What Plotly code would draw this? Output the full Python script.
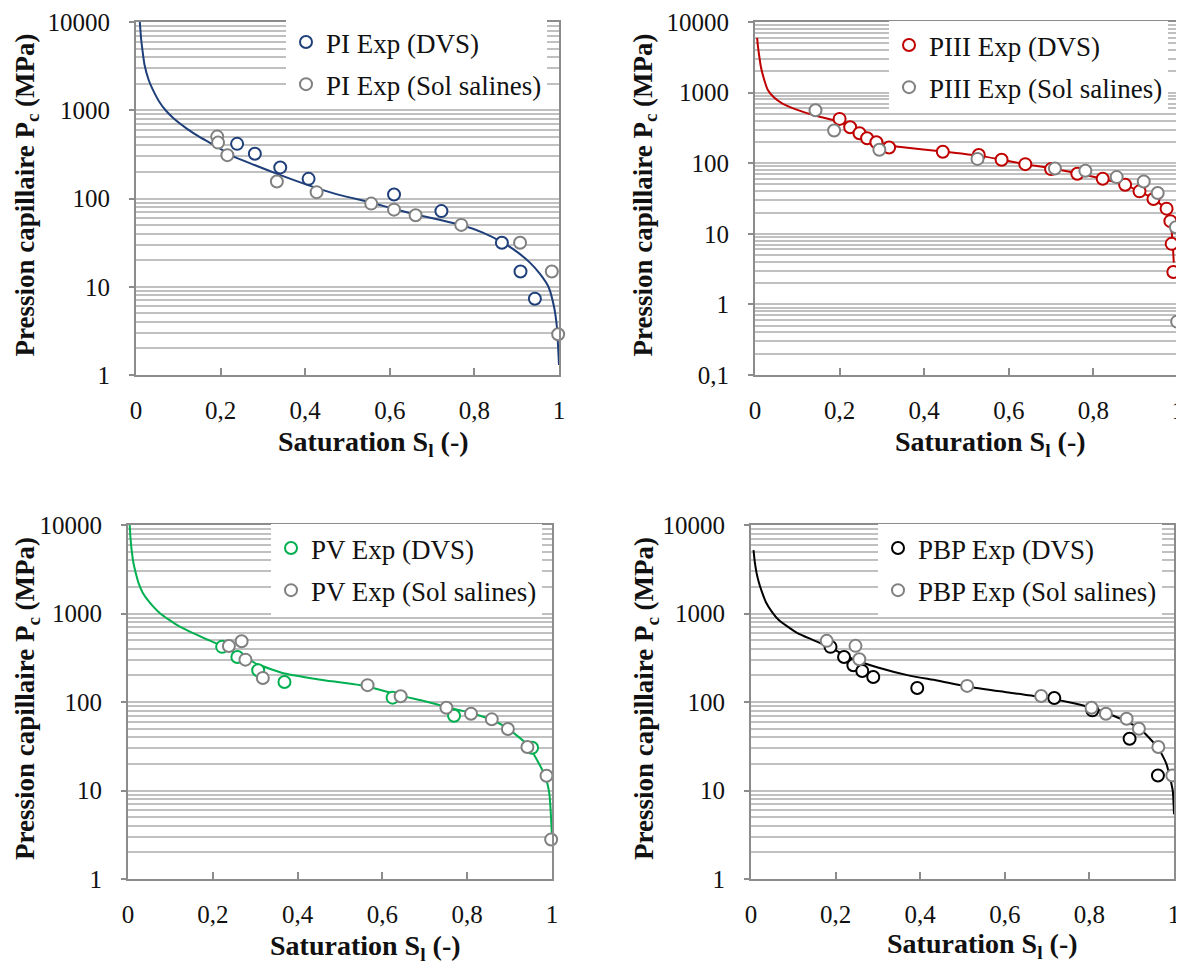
import plotly.graph_objects as go

# ---------------- DATA ----------------
# Panel PI
pi_curve_s = [0.009, 0.012, 0.016, 0.02, 0.03, 0.04, 0.055, 0.07, 0.09, 0.12, 0.15, 0.19, 0.23, 0.28, 0.34, 0.41, 0.48, 0.556, 0.61, 0.661, 0.72, 0.769, 0.82, 0.865, 0.90, 0.93, 0.955, 0.975, 0.988, 0.995, 1.0]
pi_curve_pc = [10000, 6500, 4500, 3300, 2200, 1700, 1250, 1000, 800, 620, 500, 390, 300, 240, 185, 140, 110, 90, 76, 66, 57, 50, 41, 32, 25, 19, 14, 10, 6, 3.5, 1.3]
pi_dvs_s = [0.239, 0.281, 0.341, 0.408, 0.610, 0.722, 0.865, 0.909, 0.943]
pi_dvs_pc = [416, 321, 225, 167, 111, 72, 31.5, 14.9, 7.3]
pi_sal_s = [0.192, 0.194, 0.216, 0.333, 0.427, 0.556, 0.610, 0.661, 0.769, 0.908, 0.983, 0.998]
pi_sal_pc = [503, 430, 310, 156, 118, 87.5, 74.8, 64.6, 50.2, 31.5, 14.9, 2.9]

# Panel PIII
piii_curve_s = [0.005, 0.007, 0.01, 0.014, 0.02, 0.03, 0.045, 0.065, 0.1, 0.146, 0.19, 0.225, 0.247, 0.265, 0.287, 0.317, 0.35, 0.444, 0.529, 0.583, 0.639, 0.70, 0.762, 0.822, 0.875, 0.909, 0.942, 0.973, 0.982, 0.987, 0.99]
piii_curve_pc = [5950, 4500, 3300, 2300, 1650, 1100, 850, 700, 570, 465, 400, 330, 272, 232, 203, 180, 168, 147, 128, 112, 97, 85, 72, 60, 49, 40, 31, 22, 15, 8, 3.9]
piii_dvs_s = [0.200, 0.225, 0.247, 0.265, 0.287, 0.317, 0.444, 0.529, 0.583, 0.639, 0.700, 0.762, 0.822, 0.875, 0.909, 0.942, 0.973, 0.982, 0.985, 0.989]
piii_dvs_pc = [424, 323, 266, 226, 198, 167, 145, 131, 112, 97, 82.5, 70.8, 60.2, 49.5, 39.9, 31.1, 22.7, 15.1, 7.2, 2.87]
piii_sal_s = [0.143, 0.187, 0.294, 0.526, 0.709, 0.781, 0.855, 0.919, 0.952, 0.995, 0.998]
piii_sal_pc = [561, 290, 155, 115, 84, 78, 63.5, 55, 37.8, 12.4, 0.57]

# Panel PV
pv_curve_s = [0.004, 0.006, 0.009, 0.013, 0.018, 0.025, 0.035, 0.05, 0.076, 0.12, 0.182, 0.222, 0.258, 0.307, 0.369, 0.45, 0.565, 0.643, 0.70, 0.751, 0.809, 0.858, 0.896, 0.942, 0.965, 0.985, 0.994, 1.0]
pv_curve_pc = [10000, 7000, 5000, 3700, 2900, 2200, 1700, 1350, 1000, 720, 520, 430, 350, 265, 210, 180, 150, 118, 102, 88, 75, 63, 50, 33, 22, 14, 9, 3]
pv_dvs_s = [0.222, 0.258, 0.307, 0.369, 0.624, 0.769, 0.953]
pv_dvs_pc = [420, 323, 228, 168, 112, 70, 30.4]
pv_sal_s = [0.238, 0.268, 0.277, 0.318, 0.565, 0.643, 0.751, 0.809, 0.858, 0.896, 0.942, 0.987, 0.998]
pv_sal_pc = [430, 486, 301, 187, 155, 116, 86, 73.8, 63.7, 49.5, 31, 14.7, 2.79]

# Panel PBP
pbp_curve_s = [0.006, 0.009, 0.013, 0.018, 0.025, 0.035, 0.049, 0.065, 0.085, 0.11, 0.143, 0.184, 0.238, 0.30, 0.372, 0.44, 0.511, 0.60, 0.68, 0.749, 0.805, 0.857, 0.919, 0.963, 0.982, 0.997, 1.0]
pbp_curve_pc = [5200, 3800, 2900, 2300, 1800, 1350, 1050, 850, 720, 600, 510, 420, 310, 245, 200, 175, 150, 130, 115, 100, 86, 70, 50, 30, 20, 10, 5.4]
pbp_dvs_s = [0.188, 0.220, 0.242, 0.263, 0.289, 0.393, 0.717, 0.807, 0.895, 0.962]
pbp_dvs_pc = [420, 323, 260, 224, 192, 144, 111, 80.5, 38.5, 14.8]
pbp_sal_s = [0.179, 0.247, 0.256, 0.511, 0.686, 0.805, 0.839, 0.888, 0.917, 0.963, 0.996]
pbp_sal_pc = [491, 431, 304, 152, 117, 86, 73.8, 64.7, 49.9, 31, 14.8]

# Ticks
x_tickvals = [0, 0.2, 0.4, 0.6, 0.8, 1]
x_ticktext = ["0", "0,2", "0,4", "0,6", "0,8", "1"]
y_tickvals = [0.1, 1, 10, 100, 1000, 10000]
y_ticktext = ["0,1", "1", "10", "100", "1000", "10000"]
y_minor_vals = [m * d for d in [0.1, 1, 10, 100, 1000] for m in range(2, 10)]

# ---------------- STYLE / LAYOUT ----------------
PAGE_W, PAGE_H = 1184, 965
OFF = 8  # default page body margin
W, H = PAGE_W - OFF, PAGE_H - OFF
FONT = "Liberation Serif"
GRAY_MK = "#808080"
GRID = "#c0c0c0"
AXIS = "#8c8c8c"


def px_x(v):
    return (v - OFF) / W


def px_y(v):
    return 1 - (v - OFF) / H


panels = [
    dict(label="PI", color="#1F3F7A", cs=pi_curve_s, cp=pi_curve_pc, ds=pi_dvs_s, dp=pi_dvs_pc,
         ss=pi_sal_s, sp=pi_sal_pc, box=(136, 559, 22, 375), yr=(0, 4),
         leg=(286, 18), ytx=27, xtx=(373, 443)),
    dict(label="PIII", color="#C00000", cs=piii_curve_s, cp=piii_curve_pc, ds=piii_dvs_s, dp=piii_dvs_pc,
         ss=piii_sal_s, sp=piii_sal_pc, box=(755, 1178, 22, 375), yr=(-1, 4),
         leg=(889, 21), ytx=645, xtx=(990, 443)),
    dict(label="PV", color="#00B050", cs=pv_curve_s, cp=pv_curve_pc, ds=pv_dvs_s, dp=pv_dvs_pc,
         ss=pv_sal_s, sp=pv_sal_pc, box=(128, 552, 525, 879), yr=(0, 4),
         leg=(271, 524), ytx=27, xtx=(365, 947)),
    dict(label="PBP", color="#000000", cs=pbp_curve_s, cp=pbp_curve_pc, ds=pbp_dvs_s, dp=pbp_dvs_pc,
         ss=pbp_sal_s, sp=pbp_sal_pc, box=(751, 1174, 525, 879), yr=(0, 4),
         leg=(878, 524), ytx=646, xtx=(982, 945)),
]

fig = go.Figure()
annotations = []
layout_extra = {}

for i, p in enumerate(panels):
    n = i + 1
    xs = "" if n == 1 else str(n)
    xref, yref = "x" + xs, "y" + xs
    legname = "legend" if n == 1 else "legend" + str(n)
    x0, x1, y0, y1 = p["box"]

    fig.add_trace(go.Scatter(x=p["cs"], y=p["cp"], mode="lines", xaxis=xref, yaxis=yref,
                             line=dict(color=p["color"], width=2, shape="spline", smoothing=0.5),
                             showlegend=False, hoverinfo="skip"))
    fig.add_trace(go.Scatter(x=p["ds"], y=p["dp"], mode="markers", xaxis=xref, yaxis=yref,
                             name=p["label"] + " Exp (DVS)", legend=legname, legendgroup=f"d{n}",
                             cliponaxis=False,
                             marker=dict(symbol="circle", size=12, color="white",
                                         line=dict(color=p["color"], width=2))))
    fig.add_trace(go.Scatter(x=p["ss"], y=p["sp"], mode="markers", xaxis=xref, yaxis=yref,
                             name=p["label"] + " Exp (Sol salines)", legend=legname, legendgroup=f"s{n}",
                             cliponaxis=False,
                             marker=dict(symbol="circle", size=12, color="white",
                                         line=dict(color=GRAY_MK, width=2))))

    layout_extra["xaxis" + xs] = dict(
        domain=[px_x(x0), px_x(x1)], anchor=yref, range=[0, 1], automargin=False,
        tickvals=x_tickvals, ticktext=x_ticktext, ticks="inside", ticklen=7, tickwidth=1.5,
        tickcolor=AXIS, showline=True, linecolor=AXIS, linewidth=2, mirror=True,
        showgrid=False, zeroline=False, ticklabelstandoff=12, ticklabeloverflow="allow",
        tickfont=dict(family=FONT, size=25, color="#111111"))
    layout_extra["yaxis" + xs] = dict(
        domain=[px_y(y1), px_y(y0)], anchor=xref, type="log", range=list(p["yr"]),
        automargin=False, ticklabeloverflow="allow",
        tickvals=y_tickvals, ticktext=y_ticktext, ticks="outside", ticklen=5, tickwidth=1.5,
        tickcolor=AXIS, showline=True, linecolor=AXIS, linewidth=2, mirror=True,
        showgrid=True, gridcolor=GRID, gridwidth=1.6, zeroline=False, ticklabelstandoff=14,
        minor=dict(tickmode="array", tickvals=y_minor_vals, showgrid=True,
                   gridcolor=GRID, gridwidth=1.6, ticks=""),
        tickfont=dict(family=FONT, size=25, color="#111111"))
    lx, ly = p["leg"]
    layout_extra[legname] = dict(
        x=px_x(lx), y=px_y(ly), xanchor="left", yanchor="top", bgcolor="white",
        borderwidth=0, font=dict(family=FONT, size=27, color="#111111"),
        tracegroupgap=4, itemsizing="constant", itemwidth=30)

    annotations.append(dict(text="Pression capillaire P<sub>c</sub> (MPa)", textangle=-90,
                            xref="paper", yref="paper", x=px_x(p["ytx"]), y=px_y((y0 + y1) / 2 - 3),
                            xanchor="center", yanchor="middle", showarrow=False,
                            font=dict(family=FONT, size=27, color="#111111", weight="bold")))
    annotations.append(dict(text="Saturation S<sub>l</sub> (-)",
                            xref="paper", yref="paper", x=px_x(p["xtx"][0]), y=px_y(p["xtx"][1]),
                            xanchor="center", yanchor="middle", showarrow=False,
                            font=dict(family=FONT, size=28, color="#111111", weight="bold")))

fig.update_layout(width=W, height=H, margin=dict(l=0, r=0, t=0, b=0, autoexpand=False),
                  paper_bgcolor="white", plot_bgcolor="white",
                  annotations=annotations, **layout_extra)

fig.write_html("out.html")
